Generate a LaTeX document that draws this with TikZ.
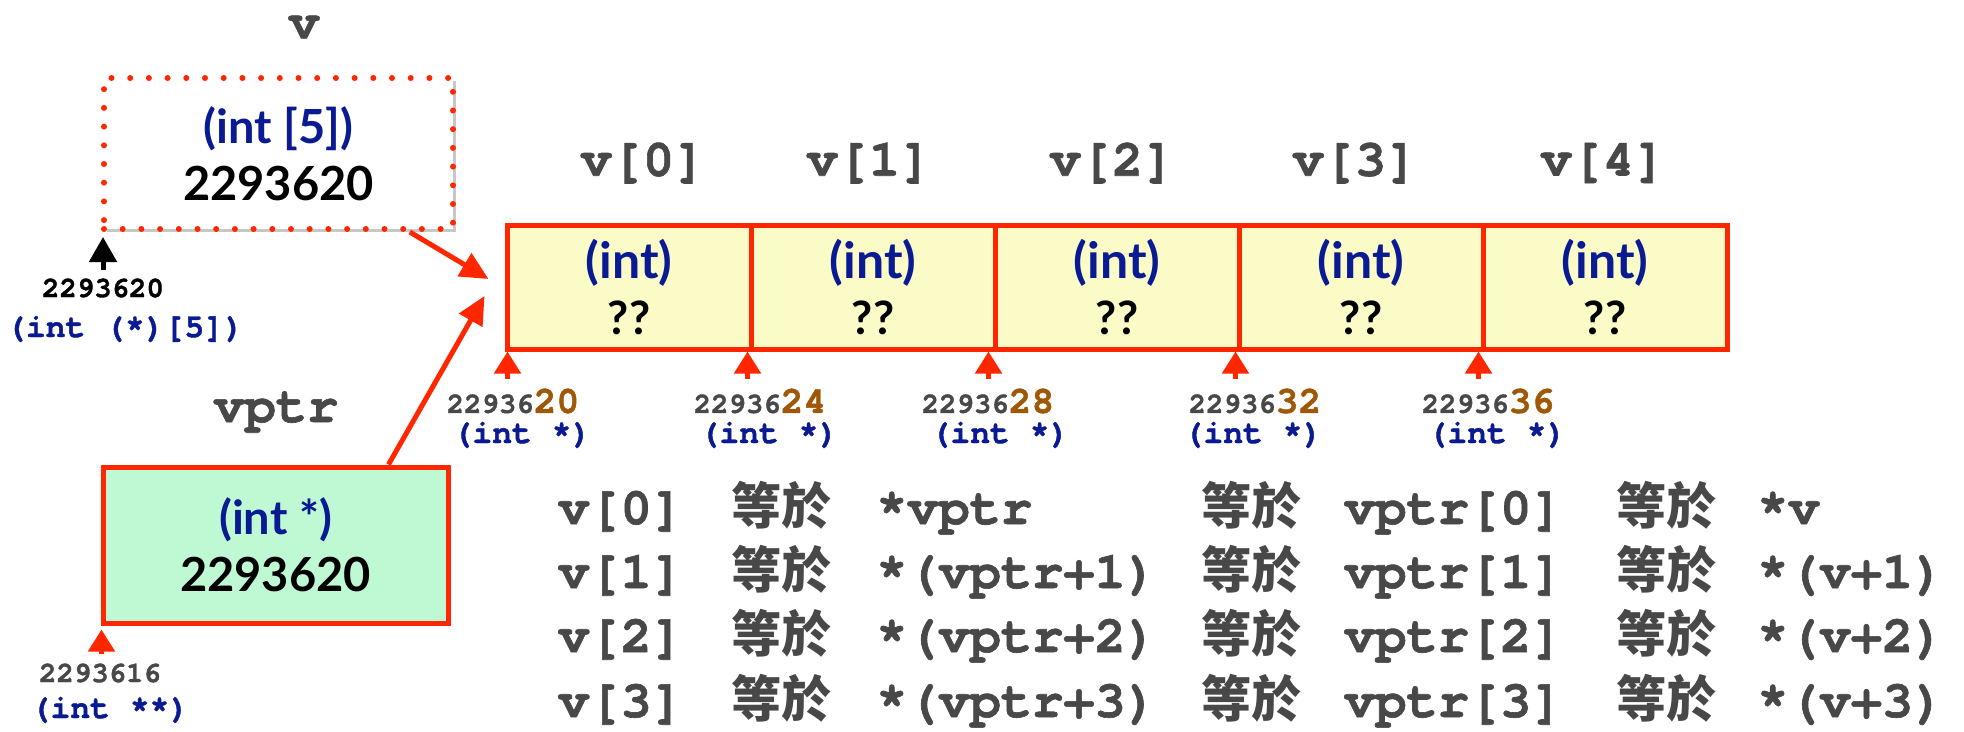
\documentclass[tikz,border=0pt]{standalone}
\usepackage{fontspec}
\setmainfont{Lato}
\setmonofont{TeX Gyre Cursor}[BoldFeatures={FakeBold=1.2}]
\newfontfamily\cjk{Noto Sans CJK TC}
\usetikzlibrary{arrows.meta,calc,shadows}
\definecolor{redl}{RGB}{255,38,0}
\definecolor{intblue}{RGB}{10,26,146}
\definecolor{cellyel}{RGB}{251,251,199}
\definecolor{cellgreen}{RGB}{191,249,212}
\definecolor{txtgray}{RGB}{72,72,72}
\definecolor{addrbrown}{RGB}{158,88,8}
\tikzset{
  boxshadow/.style={drop shadow={shadow xshift=3pt,shadow yshift=-3pt,opacity=0.22,fill=black}},
  memcell/.style={draw=redl,line width=5pt,fill=cellyel,minimum width=244pt,minimum height=124pt,
    inner sep=0pt,align=center,font=\fontsize{50}{54}\selectfont\bfseries,text=intblue,boxshadow},
  varbox/.style={line width=5pt,minimum width=345pt,minimum height=156pt,inner sep=0pt,
    align=center,font=\fontsize{47}{57}\selectfont\bfseries,text=black,boxshadow},
  varlabel/.style={font=\ttfamily\bfseries\fontsize{52}{52}\selectfont,text=txtgray,inner sep=0pt},
  addrnum/.style={font=\ttfamily\bfseries\fontsize{29}{30}\selectfont,text=txtgray,inner sep=0pt},
  addrtype/.style={font=\ttfamily\bfseries\fontsize{33}{33}\selectfont,text=intblue,inner sep=0pt},
  bigarrow/.style={draw=redl,line width=5pt,-{Triangle[width=26pt,length=28pt]}},
  addrarrow/.style={draw=redl,line width=5pt,-{Triangle[width=26pt,length=22pt]}},
  eqtext/.style={font=\ttfamily\bfseries\fontsize{52}{52}\selectfont,text=txtgray,inner sep=0pt,
    anchor=west,text height=39pt,text depth=13pt},
  eqcjk/.style={font=\cjk\bfseries\fontsize{50}{52}\selectfont,text=txtgray,inner sep=0pt,
    anchor=west,text height=39pt,text depth=13pt}
}
\newcommand{\lo}[1]{{\color{addrbrown}\bfseries\fontsize{38}{40}\selectfont #1}}
\begin{document}
\begin{tikzpicture}[x=1pt,y=-1pt]
\useasboundingbox[fill=white] (0,0) rectangle (1964,731);

% variable v
\node[varlabel] (vname) at (304,27) {v};
\node[varbox,draw=redl,fill=white,dash pattern=on 0pt off 18.7pt,line cap=round,line width=6pt,minimum width=349pt,minimum height=151pt]
  (vbox) at (278.5,153.5) {{\color{intblue}(int [5])}\\2293620};
\node[addrnum,text=black] (vaddr) at (103,288) {2293620};
\node[addrtype] (vtype) at (125,329) {(int (*)[5])};
\draw[draw=black,line width=5pt,-{Triangle[width=27pt,length=25pt]}]
  ($(vbox.south west)+(2,38)$) -- ($(vbox.south west)+(2,5)$);

% variable vptr
\node[varlabel] (pname) at (276,412) {vptr};
\node[varbox,draw=redl,fill=cellgreen] (pbox) at (275.5,545) {{\color{intblue}(int *)}\\2293620};
\node[addrnum] (paddr) at (100,673) {2293616};
\node[addrtype] (ptype) at (110,710) {(int **)};
\draw[addrarrow] ($(pbox.south west)+(1,28)$) -- ($(pbox.south west)+(1,4)$);

% array cells
\foreach \i in {0,...,4}{
  \node[memcell] (c\i) at ({629+244*\i},287) {(int)\\[2pt]{\color{black}\fontsize{46}{52}\selectfont ??}};
}
\node[varlabel] (l0) at (643,163) {v[0]};
\node[varlabel] (l1) at (869,163) {v[1]};
\node[varlabel] (l2) at (1112,163) {v[2]};
\node[varlabel] (l3) at (1355,163) {v[3]};
\node[varlabel] (l4) at (1603,163) {v[4]};

% address labels
\node[addrnum] (a0) at (513,401) {22936\lo{20}};
\node[addrnum] (a1) at (760,401) {22936\lo{24}};
\node[addrnum] (a2) at (988,401) {22936\lo{28}};
\node[addrnum] (a3) at (1255,401) {22936\lo{32}};
\node[addrnum] (a4) at (1488,401) {22936\lo{36}};
\node[addrtype] (t0) at (522,435) {(int *)};
\node[addrtype] (t1) at (769,435) {(int *)};
\node[addrtype] (t2) at (1000,435) {(int *)};
\node[addrtype] (t3) at (1253,435) {(int *)};
\node[addrtype] (t4) at (1497,435) {(int *)};

\draw[addrarrow] ($(c0.south west)+(3,27)$) -- ($(c0.south west)+(3,0)$);
\draw[addrarrow] ($(c1.south west)+(-1,27)$) -- ($(c1.south west)+(-1,0)$);
\draw[addrarrow] ($(c2.south west)+(-4,27)$) -- ($(c2.south west)+(-4,0)$);
\draw[addrarrow] ($(c3.south west)+(-1,27)$) -- ($(c3.south west)+(-1,0)$);
\draw[addrarrow] ($(c4.south west)+(-2,27)$) -- ($(c4.south west)+(-2,0)$);

% pointer arrows
\coordinate (tipA) at ($(c0.west)+(-16,-8)$);
\coordinate (tipB) at ($(c0.west)+(-20,9)$);
\draw[bigarrow] (vbox) -- (tipA);
\draw[bigarrow] ($(pbox.north east)+(-62,0)$) -- (tipB);

% equivalences
\foreach \r/\y/\a/\c/\e/\g in {
  0/511/v[0]/*vptr/vptr[0]/*v,
  1/575/v[1]/*(vptr+1)/vptr[1]/*(v+1),
  2/639/v[2]/*(vptr+2)/vptr[2]/*(v+2),
  3/704/v[3]/*(vptr+3)/vptr[3]/*(v+3)}{
  \node[eqtext] (ea\r) at (558,\y) {\a};
  \node[eqcjk]  (eb\r) at (731,\y) {等於};
  \node[eqtext] (ec\r) at (876,\y) {\c};
  \node[eqcjk]  (ed\r) at (1201,\y) {等於};
  \node[eqtext] (ee\r) at (1344,\y) {\e};
  \node[eqcjk]  (ef\r) at (1616,\y) {等於};
  \node[eqtext] (eg\r) at (1757,\y) {\g};
}
\end{tikzpicture}
\end{document}
